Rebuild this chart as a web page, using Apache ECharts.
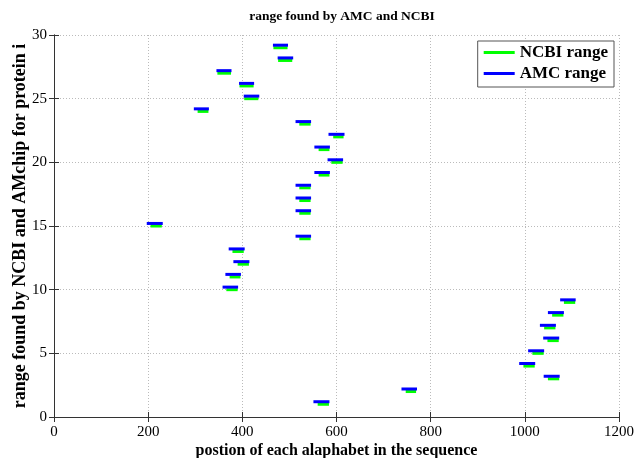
<!DOCTYPE html>
<html>
<head>
<meta charset="utf-8">
<script src="https://cdn.jsdelivr.net/npm/echarts@6/dist/echarts.min.js"></script>
<style>html,body{margin:0;padding:0;background:#fff;}#c{width:639px;height:458px;}</style>
</head>
<body>
<div id="c"></div>
<script>
const proteinIndex = [1,2,3,4,5,6,7,8,9,10,11,12,13,14,15,16,17,18,19,20,21,22,23,24,25,26,27,28,29];
const amcStart  = [551,738,1040,988,1007,1039,1032,1049,1075,358,364,381,371,513,197,513,513,513,553,581,553,583,513,297,403,393,345,475,465];
const amcEnd    = [585,771,1074,1022,1041,1073,1066,1083,1108,391,397,415,405,546,231,546,546,546,586,614,586,617,546,329,436,425,377,508,497];
const ncbiStart = [560,747,1049,997,1016,1048,1041,1058,1083,366,373,390,379,521,205,521,521,521,562,589,562,593,521,305,404,394,347,476,466];
const ncbiEnd   = [584,769,1073,1021,1040,1072,1065,1082,1107,390,396,414,403,545,229,545,545,545,585,613,585,615,545,328,434,424,376,506,496];
const xTicks = [0,200,400,600,800,1000,1200];
const yTicks = [0,5,10,15,20,25,30];

const AMC_OFFSET = 0.2;
const FONT = 'Liberation Serif';

const ncbiData = proteinIndex.map((p,k)=>[ncbiStart[k], ncbiEnd[k], p]);
const amcData = proteinIndex.map((p,k)=>[amcStart[k], amcEnd[k], p + AMC_OFFSET]);

function seg(color){
  return function(params, api){
    const a = api.coord([api.value(0), api.value(2)]);
    const b = api.coord([api.value(1), api.value(2)]);
    return {type:'line', shape:{x1:a[0], y1:a[1], x2:b[0], y2:b[1]},
            style:{stroke: color, lineWidth: 3, lineCap:'butt'}};
  };
}

const chart = echarts.init(document.getElementById('c'), null, {renderer:'canvas'});
const axisCommon = {
  type:'value',
  axisLine:{show:true, lineStyle:{color:'#333', width:1}},
  axisTick:{show:true, inside:true, length:5, lineStyle:{color:'#333'}},
};
chart.setOption({
  animation:false,
  backgroundColor:'#fff',
  title:{text:'range found by AMC and NCBI', left:337, top:5, textAlign:'center',
    textStyle:{fontFamily:FONT, fontWeight:'bold', fontSize:13.5, color:'#000'}},
  legend:{
    orient:'vertical', right:25, top:41,
    backgroundColor:'#fff', borderColor:'#555', borderWidth:1,
    padding:[3,6,5,6], itemGap:4, itemWidth:31, itemHeight:3, icon:'rect',
    textStyle:{fontFamily:FONT, fontWeight:'bold', fontSize:17, color:'#000', lineHeight:17},
    data:[{name:'NCBI range'},{name:'AMC range'}]
  },
  grid:{left:54, right:20, top:35, bottom:41, containLabel:false, outerBoundsMode:'none'},
  xAxis:[
    Object.assign({}, axisCommon, {min:xTicks[0], max:xTicks[xTicks.length-1], interval:200, position:'bottom',
      name:'postion of each alaphabet in the sequence', nameLocation:'middle', nameGap:26, nameMoveOverlap:false,
      nameTextStyle:{fontFamily:FONT, fontWeight:'bold', fontSize:16, color:'#000'},
      axisLabel:{fontFamily:FONT, fontSize:15, color:'#000', margin:8, formatter:v=>String(v)},
      splitLine:{show:true, lineStyle:{color:'#bbb', type:[1,2], width:1}}}),
    Object.assign({}, axisCommon, {min:xTicks[0], max:xTicks[xTicks.length-1], interval:200, position:'top',
      axisLabel:{show:false}, splitLine:{show:false}})
  ],
  yAxis:[
    Object.assign({}, axisCommon, {min:yTicks[0], max:yTicks[yTicks.length-1], interval:5, position:'left',
      name:'range found by NCBI and AMchip for protein i', nameLocation:'middle', nameGap:25, nameMoveOverlap:false,
      nameTextStyle:{fontFamily:FONT, fontWeight:'bold', fontSize:18, color:'#000'},
      axisLabel:{fontFamily:FONT, fontSize:15, color:'#000', margin:7, formatter:v=>String(v)},
      splitLine:{show:true, lineStyle:{color:'#bbb', type:[1,2], width:1}}}),
    Object.assign({}, axisCommon, {min:yTicks[0], max:yTicks[yTicks.length-1], interval:5, position:'right',
      axisLabel:{show:false}, splitLine:{show:false}})
  ],
  series:[
    {name:'NCBI range', type:'custom', xAxisIndex:0, yAxisIndex:0, renderItem:seg('#00ff00'),
     itemStyle:{color:'#00ff00'}, encode:{x:[0,1], y:2}, data:ncbiData, z:2},
    {name:'AMC range', type:'custom', xAxisIndex:0, yAxisIndex:0, renderItem:seg('#0000ff'),
     itemStyle:{color:'#0000ff'}, encode:{x:[0,1], y:2}, data:amcData, z:3}
  ]
});
</script>
</body>
</html>
